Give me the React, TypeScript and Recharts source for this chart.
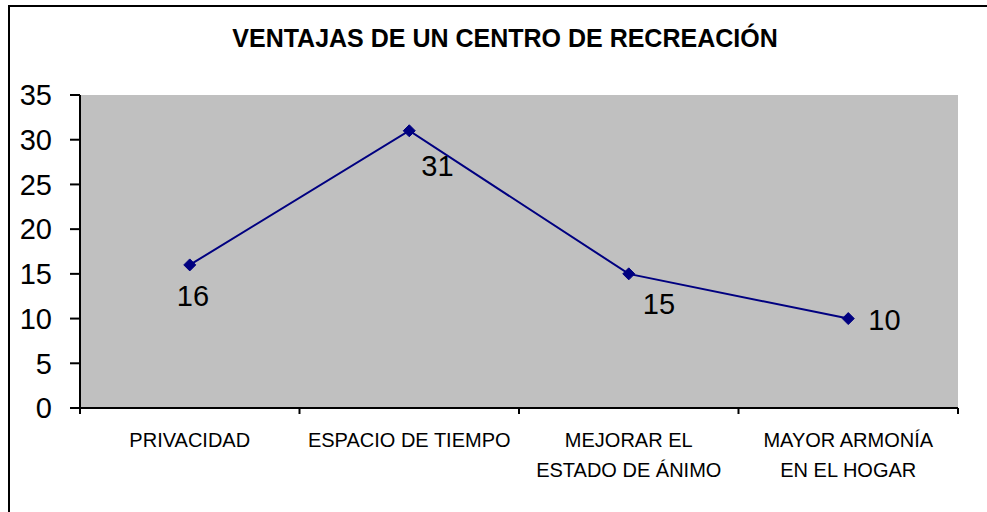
import React from 'react';
import { LineChart, Line, XAxis, YAxis, CartesianGrid } from 'recharts';

const categories: string[][] = [
  ['PRIVACIDAD'],
  ['ESPACIO DE TIEMPO'],
  ['MEJORAR EL', 'ESTADO DE ÁNIMO'],
  ['MAYOR ARMONÍA', 'EN EL HOGAR'],
];
const values: number[] = [16, 31, 15, 10];
const yTicks: number[] = [0, 5, 10, 15, 20, 25, 30, 35];
const title = 'VENTAJAS DE UN CENTRO DE RECREACIÓN';

// label placement (style constants, dx/dy from the point, text baseline)
const LABEL_OFFSETS: [number, number][] = [
  [-13, 41],
  [12, 45],
  [14, 40],
  [20, 11],
];

const data = categories.map((c, i) => ({ name: c.join(' '), lines: c, value: values[i] }));

const FONT = '"Liberation Sans", Arial, sans-serif';
const W = 987;
const H = 512;
const M = { top: 95, right: 29, left: 0, bottom: 0 };
const Y_W = 80;
const X_H = 104;
const PLOT_W = W - M.right - Y_W;
const HALF_BAND = PLOT_W / categories.length / 2;

const CatTick = (props: any) => {
  const { x, y, index, payload } = props;
  const item = data[index] || data.find((d) => d.name === payload.value);
  const lines = item ? item.lines : [String(payload.value)];
  const last = index === categories.length - 1;
  return (
    <g>
      <line x1={x - HALF_BAND} x2={x - HALF_BAND} y1={y} y2={y + 6} stroke="#000" strokeWidth={2} />
      {last && <line x1={x + HALF_BAND} x2={x + HALF_BAND} y1={y} y2={y + 6} stroke="#000" strokeWidth={2} />}
      {lines.map((l: string, i: number) => (
        <text key={i} x={x} y={y + 39 + i * 30} textAnchor="middle" fontSize={20} fontFamily={FONT} fill="#000">
          {l}
        </text>
      ))}
    </g>
  );
};

const Diamond = (props: any) => {
  const { cx, cy, index } = props;
  if (cx == null || cy == null) return <g key={index} />;
  const r = 6;
  return (
    <path
      key={index}
      d={`M${cx},${cy - r}L${cx + r},${cy}L${cx},${cy + r}L${cx - r},${cy}Z`}
      fill="#000080"
      stroke="#000080"
      strokeWidth={1}
    />
  );
};

const ValueLabel = (props: any) => {
  const { x, y, value, index } = props;
  const [dx, dy] = LABEL_OFFSETS[index] || [10, 30];
  return (
    <text x={x + dx} y={y + dy} textAnchor="start" fontSize={29} fontFamily={FONT} fill="#000">
      {value}
    </text>
  );
};

export default function App() {
  return (
    <div style={{ position: 'absolute', left: 0, top: 0, width: W, height: H, background: '#fff', overflow: 'hidden' }}>
      <div
        style={{
          position: 'absolute',
          left: 8,
          top: 5,
          width: 1100,
          height: 700,
          borderLeft: '2px solid #000',
          borderTop: '2px solid #000',
        }}
      />
      <div
        style={{
          position: 'absolute',
          left: 105,
          top: 25.8,
          width: 800,
          textAlign: 'center',
          fontFamily: FONT,
          fontWeight: 'bold',
          fontSize: 25,
          lineHeight: '25px',
          color: '#000',
          whiteSpace: 'nowrap',
        }}
      >
        {title}
      </div>
      <div style={{ position: 'absolute', left: 0, top: 0 }}>
        <LineChart width={W} height={H} data={data} margin={M}>
          <CartesianGrid fill="#C0C0C0" horizontal={false} vertical={false} />
          <XAxis
            xAxisId="top"
            orientation="top"
            dataKey="name"
            height={0}
            tick={false}
            tickLine={false}
            axisLine={{ stroke: '#808080', strokeWidth: 2 }}
            padding={{ left: HALF_BAND, right: HALF_BAND }}
          />
          <YAxis
            yAxisId="right"
            orientation="right"
            width={0}
            domain={[0, 35]}
            tick={false}
            tickLine={false}
            axisLine={{ stroke: '#808080', strokeWidth: 2 }}
          />
          <XAxis
            dataKey="name"
            height={X_H}
            tickLine={false}
            tickSize={0}
            tickMargin={0}
            interval={0}
            axisLine={{ stroke: '#000', strokeWidth: 2 }}
            tick={<CatTick />}
            padding={{ left: HALF_BAND, right: HALF_BAND }}
          />
          <YAxis
            width={Y_W}
            domain={[0, 35]}
            ticks={yTicks}
            interval={0}
            tickSize={10}
            tickMargin={18}
            axisLine={{ stroke: '#000', strokeWidth: 2 }}
            tickLine={{ stroke: '#000', strokeWidth: 2 }}
            tick={{ fontSize: 29, fontFamily: FONT, fill: '#000' }}
          />
          <Line
            type="linear"
            dataKey="value"
            stroke="#000080"
            strokeWidth={2}
            dot={<Diamond />}
            activeDot={false}
            label={<ValueLabel />}
            isAnimationActive={false}
          />
        </LineChart>
      </div>
    </div>
  );
}
